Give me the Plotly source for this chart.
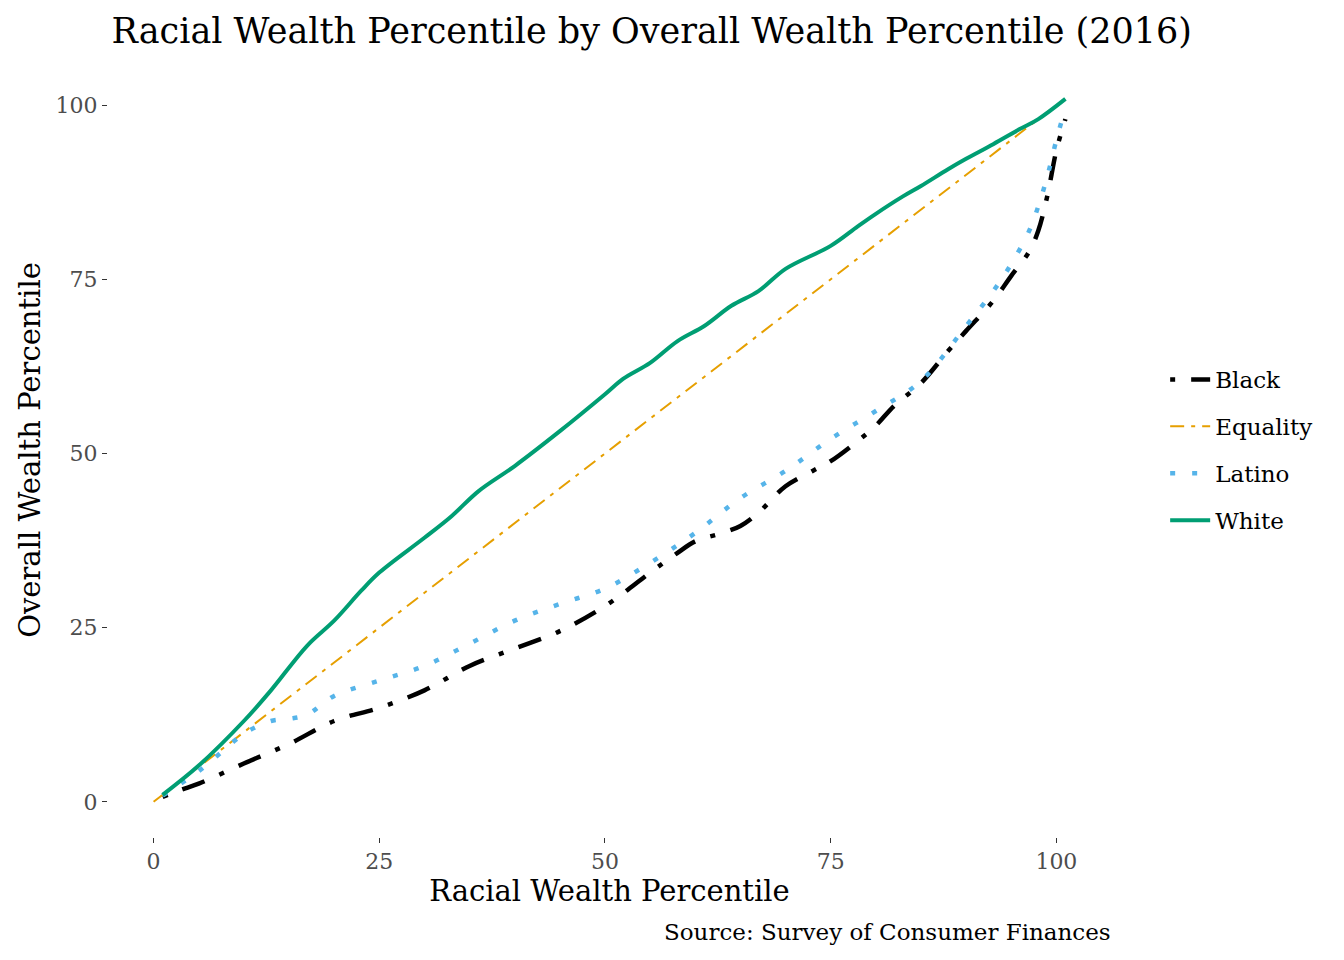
import plotly.graph_objects as go

# percentile points
white_x = [1, 5, 10, 13, 17, 20, 23, 25, 30, 33, 36, 40, 45, 50, 52, 55, 58, 61, 64, 67,
           70, 75, 78, 80, 83, 85, 88, 90, 93, 96, 98, 101]
white_y = [1.0, 5.2, 11.6, 16.0, 22.4, 26.0, 30.3, 32.9, 37.9, 41.0, 44.6, 48.2, 53.2, 58.5,
           60.7, 63.0, 66.1, 68.3, 71.2, 73.3, 76.5, 79.8, 82.6, 84.4, 86.9, 88.4, 90.8,
           92.3, 94.4, 96.6, 98.0, 100.9]

black_x = [1, 3, 5, 10, 15, 20, 25, 30, 35, 40, 45, 50, 55, 58, 60, 63, 65, 67, 70, 73, 75,
           78, 80, 82, 85, 88, 90, 93, 95, 97, 98, 99, 100, 101]
black_y = [0.7, 1.7, 2.6, 5.5, 8.3, 11.6, 13.5, 16.0, 19.5, 22.0, 24.5, 28.1, 32.9, 35.7,
           37.4, 38.6, 39.6, 41.5, 45.3, 47.5, 48.9, 51.8, 54.0, 56.8, 60.1, 64.7, 67.6,
           71.9, 75.5, 79.0, 82.0, 87.0, 93.5, 98.0]

latino_x = [1, 5, 9, 10, 13, 15, 17, 20, 25, 30, 35, 40, 45, 50, 55, 60, 65, 70, 75, 80,
            85, 90, 93, 95, 97, 98, 99, 100, 101]
latino_y = [0.9, 4.4, 8.8, 9.8, 11.6, 11.9, 12.5, 15.2, 17.4, 19.5, 22.7, 26.0, 28.4, 30.6,
            34.3, 38.6, 43.6, 47.5, 52.1, 56.1, 60.4, 68.3, 73.3, 77.2, 82.0, 85.5, 89.8,
            95.0, 99.6]

equal_x = [0, 100]
equal_y = [0, 100]

serif = "DejaVu Serif"

fig = go.Figure()
fig.add_trace(go.Scatter(x=black_x, y=black_y, name="Black", mode="lines", legendgroup="b",
                         line=dict(color="black", width=4.5, dash="5px,16px,24px,16px",
                                   shape="spline")))
fig.add_trace(go.Scatter(x=equal_x, y=equal_y, name="Equality", mode="lines", legendgroup="e",
                         line=dict(color="#E69F00", width=2, dash="14px,7px,4px,7px")))
fig.add_trace(go.Scatter(x=latino_x, y=latino_y, name="Latino", mode="lines", legendgroup="l",
                         line=dict(color="#56B4E9", width=4.5, dash="5px,17px",
                                   shape="spline")))
fig.add_trace(go.Scatter(x=white_x, y=white_y, name="White", mode="lines", legendgroup="w",
                         line=dict(color="#009E73", width=4, shape="spline")))

fig.update_layout(
    width=1344, height=960,
    plot_bgcolor="white", paper_bgcolor="white",
    font=dict(family=serif, color="black"),
    title=dict(text="Racial Wealth Percentile by Overall Wealth Percentile (2016)",
               x=0.479, xanchor="center", y=0.976, yanchor="middle",
               font=dict(size=35, family=serif, color="black")),
    margin=dict(l=100, r=241, t=55, b=131),
    legend=dict(x=1.054, y=0.5, xanchor="left", yanchor="middle",
                font=dict(size=23, family=serif), tracegroupgap=14,
                itemwidth=40, bgcolor="rgba(0,0,0,0)"),
    annotations=[dict(text="Source: Survey of Consumer Finances", xref="paper", yref="paper",
                      x=1.002, y=-0.123, xanchor="right", yanchor="middle", showarrow=False,
                      font=dict(size=23, family=serif, color="black"))],
)
fig.update_xaxes(range=[-5.05, 106.05], tickvals=[0, 25, 50, 75, 100], showgrid=False,
                 zeroline=False, showline=False, ticks="outside", ticklen=5,
                 tickcolor="#333333", tickfont=dict(size=22, color="#4d4d4d"),
                 title=dict(text="Racial Wealth Percentile", font=dict(size=29), standoff=6))
fig.update_yaxes(range=[-5.05, 106.05], tickvals=[0, 25, 50, 75, 100], showgrid=False,
                 zeroline=False, showline=False, ticks="outside", ticklen=5,
                 tickcolor="#333333", tickfont=dict(size=22, color="#4d4d4d"),
                 title=dict(text="Overall Wealth Percentile", font=dict(size=29), standoff=6))

fig.write_html("out.html")
